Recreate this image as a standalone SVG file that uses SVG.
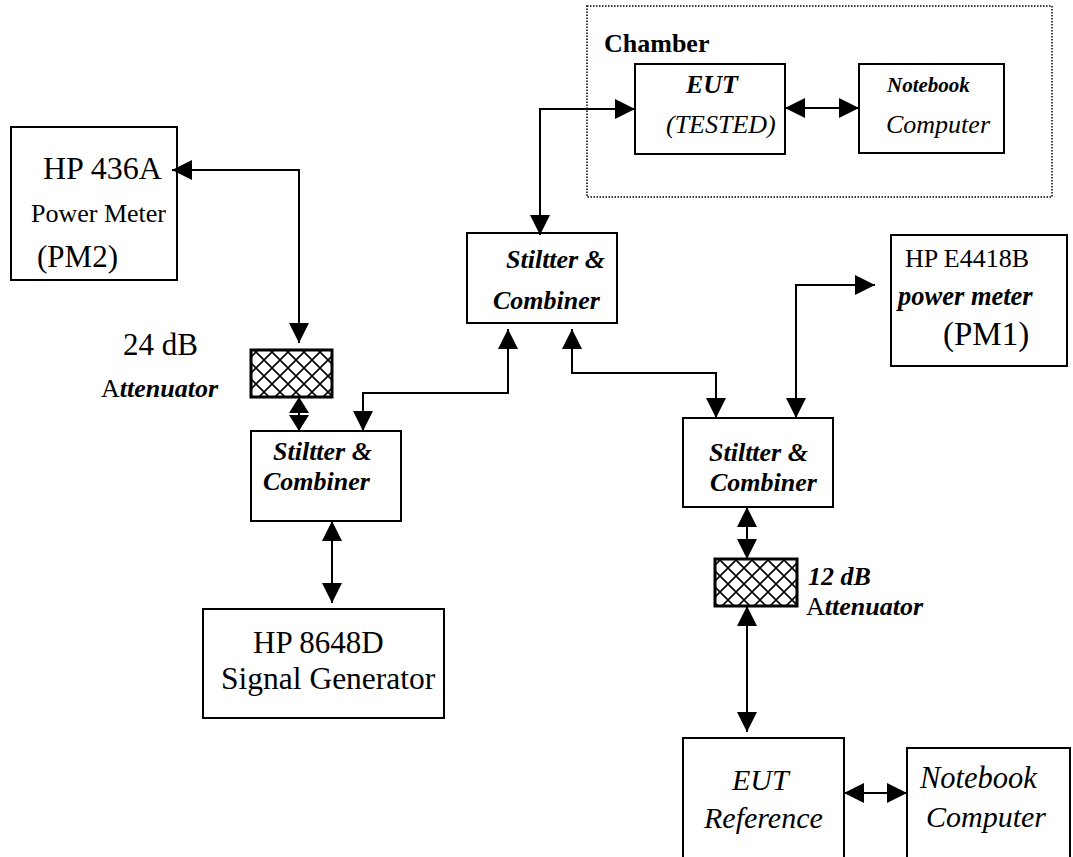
<svg xmlns="http://www.w3.org/2000/svg" width="1073" height="857" viewBox="0 0 1073 857">
<style>
text{font-family:"Liberation Serif","Times New Roman",serif;fill:#000}
.b{font-weight:bold}
.i{font-style:italic}
.bi{font-weight:bold;font-style:italic}
.box{fill:#fff;stroke:#000;stroke-width:2}
.att{fill:url(#hatch);stroke:#000;stroke-width:3}
.ln{fill:none;stroke:#000;stroke-width:2;marker-start:url(#ah);marker-end:url(#ah)}
.sm{fill:none;stroke:#000;stroke-width:2;marker-start:url(#ahs);marker-end:url(#ahs)}
</style>
<defs>
<marker id="ah" markerUnits="userSpaceOnUse" markerWidth="20" markerHeight="20" refX="20" refY="10" orient="auto-start-reverse"><path d="M0,0 L20,10 L0,20 z" fill="#000"/></marker>
<marker id="ahs" markerUnits="userSpaceOnUse" markerWidth="16" markerHeight="20" refX="16" refY="10" orient="auto-start-reverse"><path d="M0,0 L16,10 L0,20 z" fill="#000"/></marker>
<pattern id="hatch" patternUnits="userSpaceOnUse" width="16" height="16" x="0" y="0"><rect width="16" height="16" fill="#fff"/><path d="M0,0 L16,16 M16,0 L0,16" stroke="#000" stroke-width="1.6"/></pattern>
</defs>
<rect width="1073" height="857" fill="#fff"/>

<g id="chamber">
<rect x="587" y="6" width="465" height="191" fill="none" stroke="#000" stroke-width="1.5" stroke-dasharray="1.5,1.5"/>
<text x="604" y="52" font-size="26" class="b">Chamber</text>
</g>

<g id="eut-tested">
<rect class="box" x="635" y="64" width="150" height="90"/>
<text x="686" y="93" font-size="26" class="bi">EUT</text>
<text x="666" y="133" font-size="26" class="i">(TESTED)</text>
</g>

<g id="notebook-chamber">
<rect class="box" x="859" y="64" width="145" height="89"/>
<text x="887" y="92" font-size="21" class="bi">Notebook</text>
<text x="886" y="133" font-size="26" class="i">Computer</text>
</g>

<g id="pm2">
<rect class="box" x="11" y="127" width="166" height="153"/>
<text x="43" y="179" font-size="32">HP 436A</text>
<text x="31" y="222" font-size="26">Power Meter</text>
<text x="37" y="267" font-size="31">(PM2)</text>
</g>

<g id="att24">
<rect class="att" x="251" y="350" width="81" height="47"/>
<text x="123" y="355" font-size="31">24 dB</text>
<text x="101" y="397" font-size="26">A<tspan class="bi">ttenuator</tspan></text>
</g>

<g id="splitter-left">
<rect class="box" x="251" y="431" width="150" height="90"/>
<text x="273" y="460" font-size="26" class="bi">Stiltter &amp;</text>
<text x="263" y="490" font-size="26" class="bi">Combiner</text>
</g>

<g id="splitter-mid">
<rect class="box" x="467" y="233" width="150" height="90"/>
<text x="506" y="268" font-size="26" class="bi">Stiltter &amp;</text>
<text x="493" y="309" font-size="26" class="bi">Combiner</text>
</g>

<g id="pm1">
<rect class="box" x="891" y="235" width="176" height="131"/>
<text x="905" y="267" font-size="26">HP E4418B</text>
<text x="898" y="305" font-size="26.5" class="bi">power meter</text>
<text x="943" y="345" font-size="33">(PM1)</text>
</g>

<g id="splitter-right">
<rect class="box" x="683" y="418" width="150" height="89"/>
<text x="709" y="461" font-size="26" class="bi">Stiltter &amp;</text>
<text x="710" y="491" font-size="26" class="bi">Combiner</text>
</g>

<g id="att12">
<rect class="att" x="715" y="559" width="82" height="47"/>
<text x="808" y="585" font-size="26" class="bi">12 dB</text>
<text x="806" y="615" font-size="26">A<tspan class="bi">ttenuator</tspan></text>
</g>

<g id="siggen">
<rect class="box" x="203" y="609" width="241" height="109"/>
<text x="253" y="653" font-size="31">HP 8648D</text>
<text x="221" y="689" font-size="31.5">Signal Generator</text>
</g>

<g id="eut-ref">
<rect class="box" x="683" y="738" width="161" height="130"/>
<text x="732" y="790" font-size="30" class="i">EUT</text>
<text x="704" y="828" font-size="30" class="i">Reference</text>
</g>

<g id="notebook-ref">
<rect class="box" x="907" y="748" width="163" height="120"/>
<text x="920" y="788" font-size="30.5" class="i">Notebook</text>
<text x="926" y="827" font-size="30" class="i">Computer</text>
</g>

<g id="connectors">
<path class="ln" d="M540,235 L540,109 L635,109"/>
<path class="ln" d="M785,108 L859,108"/>
<path class="ln" d="M172,170 L299,170 L299,343"/>
<path class="sm" d="M299,397 L299,431"/>
<path class="ln" d="M363,431 L363,393 L508,393 L508,329"/>
<path class="ln" d="M572,329 L572,373 L716,373 L716,418"/>
<path class="ln" d="M796,418 L796,285 L875,285"/>
<path class="ln" d="M747,507 L747,559"/>
<path class="ln" d="M747,606 L747,732"/>
<path class="ln" d="M844,793 L907,793"/>
<path class="ln" d="M332,521 L332,603"/>
</g>
</svg>
